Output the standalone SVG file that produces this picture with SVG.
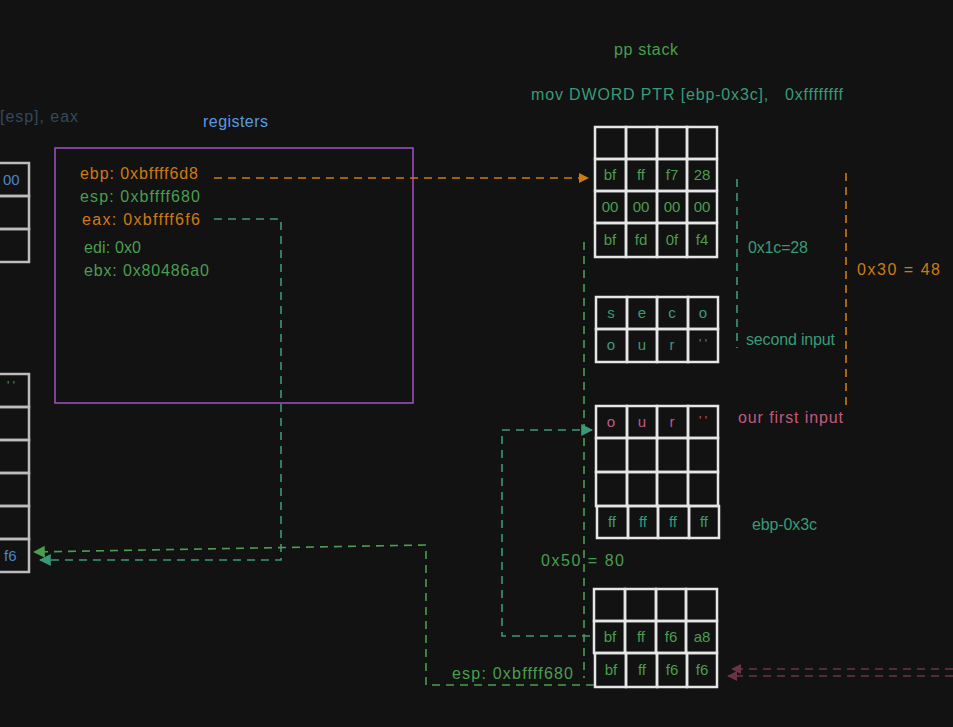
<svg xmlns="http://www.w3.org/2000/svg" width="953" height="727" viewBox="0 0 953 727">
<defs>
<style>
text{font-family:"Liberation Sans","DejaVu Sans",sans-serif;font-size:16px}
.g{fill:#4a9e4f}.t{fill:#3a9a78}.o{fill:#cf7a12}.p{fill:#c05a7e}.b{fill:#5a9be0}
.c{text-anchor:middle;font-size:15px}
.cell{fill:none;stroke:#e6e6e6;stroke-width:2.5}
.lcell{fill:none;stroke:#bdbdbd;stroke-width:2.5}
.dash{fill:none;stroke-width:1.6;stroke-dasharray:8 6}
</style>
<marker id="ao" viewBox="0 0 10 10" refX="9" refY="5" markerWidth="10" markerHeight="10" markerUnits="userSpaceOnUse" orient="auto"><path d="M0,0L10,5L0,10z" fill="#cf7a12"/></marker>
<marker id="ag" viewBox="0 0 10 10" refX="9" refY="5" markerWidth="12" markerHeight="12" markerUnits="userSpaceOnUse" orient="auto"><path d="M0,0L10,5L0,10z" fill="#4a9e4f"/></marker>
<marker id="at" viewBox="0 0 10 10" refX="9" refY="5" markerWidth="12" markerHeight="12" markerUnits="userSpaceOnUse" orient="auto"><path d="M0,0L10,5L0,10z" fill="#3a9a78"/></marker>
<marker id="ap" viewBox="0 0 10 10" refX="9" refY="5" markerWidth="10" markerHeight="10" markerUnits="userSpaceOnUse" orient="auto"><path d="M0,0L10,5L0,10z" fill="#6a3448"/></marker>
</defs>
<rect width="953" height="727" fill="#121212"/>

<g id="left-top-cells">
<rect class="lcell" x="-4" y="163" width="33" height="33"/>
<rect class="lcell" x="-4" y="196" width="33" height="33"/>
<rect class="lcell" x="-4" y="229" width="33" height="33"/>
<text x="3" y="185" style="fill:#4a86c8;font-size:15px">00</text>
</g>
<g id="left-bottom-cells">
<rect class="lcell" x="-4" y="374" width="33" height="33"/>
<rect class="lcell" x="-4" y="407" width="33" height="33"/>
<rect class="lcell" x="-4" y="440" width="33" height="33"/>
<rect class="lcell" x="-4" y="473" width="33" height="33"/>
<rect class="lcell" x="-4" y="506" width="33" height="33"/>
<rect class="lcell" x="-4" y="539" width="33" height="33"/>
<text class="t" x="7" y="390" style="font-size:12px">' '</text>
<text x="4" y="561" style="fill:#4a86c8;font-size:15px">f6</text>
</g>

<g id="labels">
<text x="0" y="122" textLength="78" lengthAdjust="spacing" style="fill:#34495e">[esp], eax</text>
<text class="b" x="203" y="127" textLength="65" lengthAdjust="spacing">registers</text>
<text class="g" x="614" y="55" textLength="64" lengthAdjust="spacing">pp stack</text>
<text class="t" x="531" y="100" xml:space="preserve" textLength="312" lengthAdjust="spacing">mov DWORD PTR [ebp-0x3c],   0xffffffff</text>
<text class="t" x="748" y="253" textLength="60" lengthAdjust="spacing">0x1c=28</text>
<text class="t" x="746" y="345" textLength="89" lengthAdjust="spacing">second input</text>
<text class="o" x="857" y="275" textLength="83" lengthAdjust="spacing">0x30 = 48</text>
<text class="p" x="738" y="423" textLength="105" lengthAdjust="spacing">our first input</text>
<text class="t" x="752" y="530" textLength="65" lengthAdjust="spacing">ebp-0x3c</text>
<text class="g" x="541" y="566" textLength="83" lengthAdjust="spacing">0x50 = 80</text>
<text class="g" x="452" y="679" textLength="121" lengthAdjust="spacing">esp: 0xbffff680</text>
</g>

<g id="registers">
<rect x="55" y="148" width="358" height="255" fill="none" stroke="#a352c2" stroke-width="1.5"/>
<text class="o" x="80" y="179" textLength="118" lengthAdjust="spacing">ebp: 0xbffff6d8</text>
<text class="g" x="80" y="202" textLength="120" lengthAdjust="spacing">esp: 0xbffff680</text>
<text class="o" x="82" y="225" textLength="118" lengthAdjust="spacing">eax: 0xbffff6f6</text>
<text class="g" x="84" y="253" textLength="57" lengthAdjust="spacing">edi: 0x0</text>
<text class="g" x="84" y="276" textLength="125" lengthAdjust="spacing">ebx: 0x80486a0</text>
</g>

<g id="stack-top">
<rect class="cell" x="595" y="127" width="31" height="32"/><rect class="cell" x="626" y="127" width="31" height="32"/><rect class="cell" x="657" y="127" width="30" height="32"/><rect class="cell" x="687" y="127" width="30" height="32"/>
<rect class="cell" x="595" y="159" width="31" height="32"/><rect class="cell" x="626" y="159" width="31" height="32"/><rect class="cell" x="657" y="159" width="30" height="32"/><rect class="cell" x="687" y="159" width="30" height="32"/>
<rect class="cell" x="595" y="191" width="31" height="32"/><rect class="cell" x="626" y="191" width="31" height="32"/><rect class="cell" x="657" y="191" width="30" height="32"/><rect class="cell" x="687" y="191" width="30" height="32"/>
<rect class="cell" x="595" y="223" width="31" height="34"/><rect class="cell" x="626" y="223" width="31" height="34"/><rect class="cell" x="657" y="223" width="30" height="34"/><rect class="cell" x="687" y="223" width="30" height="34"/>
<text class="g c" x="610" y="180">bf</text><text class="g c" x="641" y="180">ff</text><text class="g c" x="672" y="180">f7</text><text class="g c" x="702" y="180">28</text>
<text class="g c" x="610" y="212">00</text><text class="g c" x="641" y="212">00</text><text class="g c" x="672" y="212">00</text><text class="g c" x="702" y="212">00</text>
<text class="g c" x="610" y="245">bf</text><text class="g c" x="641" y="245">fd</text><text class="g c" x="672" y="245">0f</text><text class="g c" x="702" y="245">f4</text>
</g>

<g id="second-input">
<rect class="cell" x="596" y="297" width="31" height="32"/><rect class="cell" x="627" y="297" width="30" height="32"/><rect class="cell" x="657" y="297" width="31" height="32"/><rect class="cell" x="688" y="297" width="30" height="32"/>
<rect class="cell" x="596" y="329" width="31" height="33"/><rect class="cell" x="627" y="329" width="30" height="33"/><rect class="cell" x="657" y="329" width="31" height="33"/><rect class="cell" x="688" y="329" width="30" height="33"/>
<text class="t c" x="611" y="318">s</text><text class="t c" x="642" y="318">e</text><text class="t c" x="672" y="318">c</text><text class="t c" x="703" y="318">o</text>
<text class="t c" x="611" y="350">o</text><text class="t c" x="642" y="350">u</text><text class="t c" x="672" y="350">r</text><text class="t c" x="703" y="348" style="font-size:12px">' '</text>
</g>

<g id="first-input">
<rect class="cell" x="596" y="406" width="31" height="32"/><rect class="cell" x="627" y="406" width="30" height="32"/><rect class="cell" x="657" y="406" width="31" height="32"/><rect class="cell" x="688" y="406" width="30" height="32"/>
<rect class="cell" x="596" y="438" width="31" height="34"/><rect class="cell" x="627" y="438" width="30" height="34"/><rect class="cell" x="657" y="438" width="31" height="34"/><rect class="cell" x="688" y="438" width="30" height="34"/>
<rect class="cell" x="596" y="472" width="31" height="34"/><rect class="cell" x="627" y="472" width="30" height="34"/><rect class="cell" x="657" y="472" width="31" height="34"/><rect class="cell" x="688" y="472" width="30" height="34"/>
<rect class="cell" x="597" y="506" width="31" height="32"/><rect class="cell" x="628" y="506" width="30" height="32"/><rect class="cell" x="658" y="506" width="31" height="32"/><rect class="cell" x="689" y="506" width="30" height="32"/>
<text class="p c" x="611" y="427">o</text><text class="p c" x="642" y="427">u</text><text class="p c" x="672" y="427">r</text><text class="p c" x="703" y="425" style="font-size:12px">' '</text>
<text class="t c" x="612" y="527">ff</text><text class="t c" x="643" y="527">ff</text><text class="t c" x="673" y="527">ff</text><text class="t c" x="704" y="527">ff</text>
</g>

<g id="stack-bottom">
<rect class="cell" x="594" y="589" width="31" height="32"/><rect class="cell" x="625" y="589" width="31" height="32"/><rect class="cell" x="656" y="589" width="30" height="32"/><rect class="cell" x="686" y="589" width="31" height="32"/>
<rect class="cell" x="594" y="621" width="31" height="32"/><rect class="cell" x="625" y="621" width="31" height="32"/><rect class="cell" x="656" y="621" width="30" height="32"/><rect class="cell" x="686" y="621" width="31" height="32"/>
<rect class="cell" x="595" y="653" width="31" height="34"/><rect class="cell" x="626" y="653" width="31" height="34"/><rect class="cell" x="657" y="653" width="30" height="34"/><rect class="cell" x="687" y="653" width="30" height="34"/>
<text class="g c" x="610" y="642">bf</text><text class="g c" x="641" y="642">ff</text><text class="g c" x="671" y="642">f6</text><text class="g c" x="702" y="642">a8</text>
<text class="g c" x="611" y="675">bf</text><text class="g c" x="642" y="675">ff</text><text class="g c" x="672" y="675">f6</text><text class="g c" x="702" y="675">f6</text>
</g>

<g id="connectors">
<path class="dash" stroke="#cf7a12" d="M214,178 L588,178" marker-end="url(#ao)"/>
<path class="dash" stroke="#3a9a78" d="M214,219 L281,219 L281,560 L40,560" marker-end="url(#at)"/>
<path class="dash" stroke="#4a9e4f" d="M594,685 L426,685 L426,545 L34,552" marker-end="url(#ag)"/>
<path class="dash" stroke="#4a9e4f" d="M584,242 L584,678"/>
<path class="dash" stroke="#3a9a78" d="M590,636 L502,636 L502,430 L592,430" marker-end="url(#at)"/>
<path class="dash" stroke="#3a9a78" d="M737,179 L737,348"/>
<path class="dash" stroke="#cf7a12" d="M846,173 L846,410"/>
<path class="dash" stroke="#6a3448" d="M953,669 L732,669" marker-end="url(#ap)"/>
<path class="dash" stroke="#6a3448" d="M953,676 L728,676" marker-end="url(#ap)"/>
</g>
</svg>
